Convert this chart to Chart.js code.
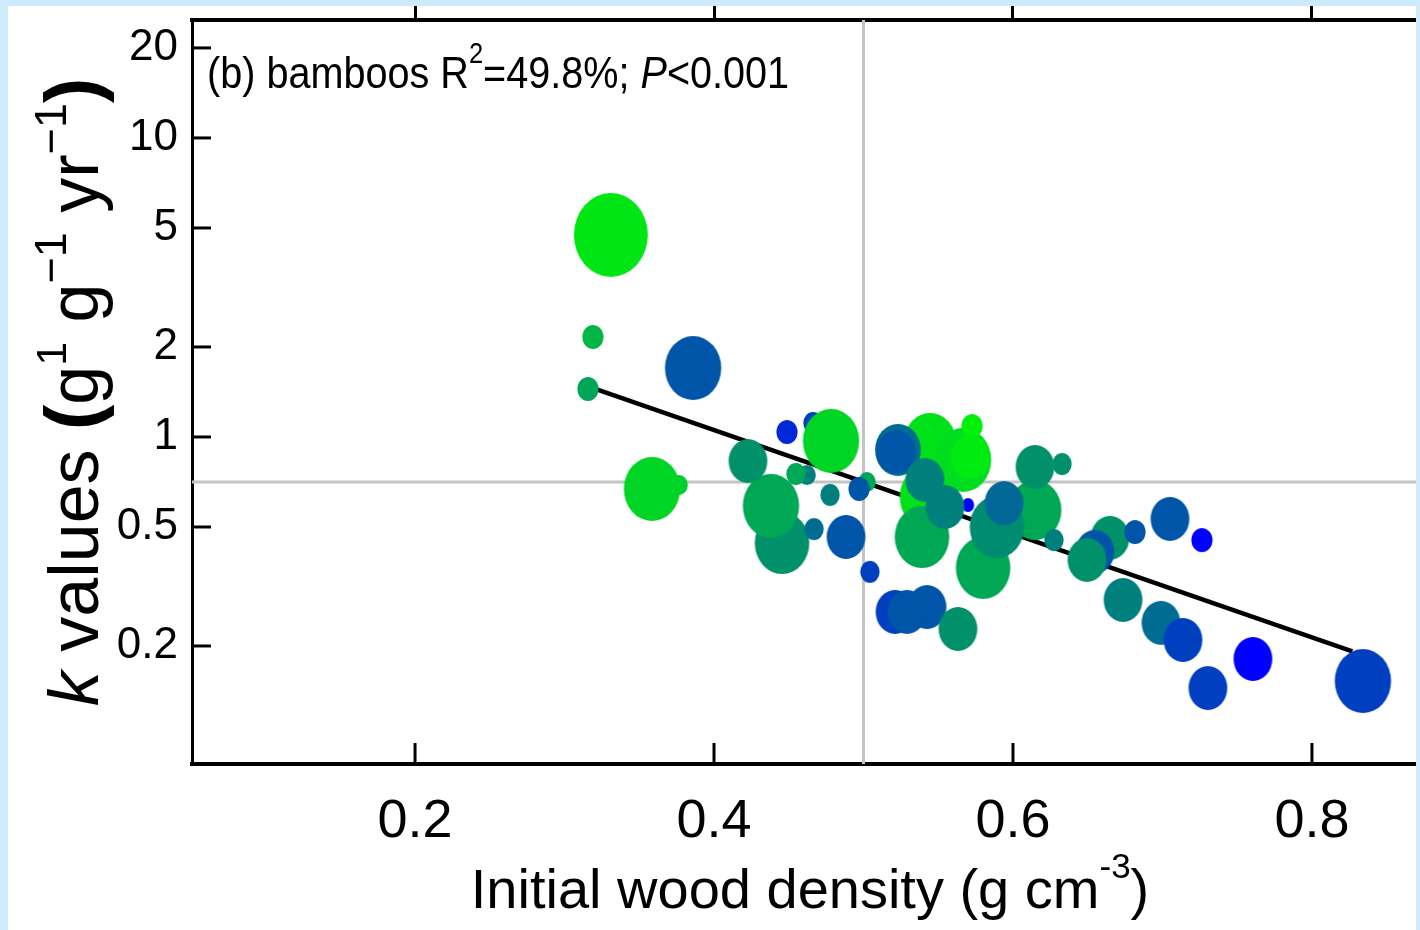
<!DOCTYPE html>
<html>
<head>
<meta charset="utf-8">
<title>Bamboos: k values vs initial wood density</title>
<script src="https://cdn.jsdelivr.net/npm/chart.js@4.4.1/dist/chart.umd.min.js"></script>
<style>
  html, body { margin: 0; padding: 0; background: #cdebfd; }
  #panel { position: absolute; left: 8px; top: 6px; width: 1408px; height: 924px; background: #fff; }
</style>
</head>
<body>
<div id="panel"><canvas id="scatter" width="1408" height="924"></canvas></div>
<script>
// Initial wood density (g cm-3) of each bamboo sample
const density = [
  0.4455, 0.4381, 0.3766, 0.3585, 0.4227, 0.4622, 0.4548, 0.4776, 0.4669, 0.4883,
  0.4488, 0.4662, 0.4783, 0.5023, 0.4970, 0.5043, 0.3310, 0.3190, 0.3860, 0.3157,
  0.5431, 0.5445, 0.5230, 0.5217, 0.5666, 0.5712, 0.5726, 0.5699, 0.5411, 0.5391,
  0.5545, 0.5800, 0.6147, 0.5893, 0.6147, 0.6328, 0.5940, 0.6274, 0.6649, 0.6548,
  0.6495, 0.6816, 0.7050, 0.7264, 0.6736, 0.6990, 0.7137, 0.7304, 0.7605, 0.8341,
  0.5211, 0.5425, 0.5291, 0.5632
];
// decomposition rate k (g g-1 yr-1)
const kValue = [
  0.442, 0.588, 0.691, 0.670, 0.831, 0.746, 0.752, 0.640, 0.492, 0.463,
  1.039, 1.114, 0.970, 0.707, 0.670, 0.354, 4.74, 2.16, 1.70, 1.447,
  0.630, 0.955, 0.905, 0.891, 0.838, 0.857, 1.088, 0.592, 0.718, 0.463,
  0.583, 0.365, 0.570, 0.500, 0.794, 0.812, 0.601, 0.452, 0.460, 0.413,
  0.388, 0.481, 0.532, 0.452, 0.285, 0.239, 0.2095, 0.1447, 0.181, 0.1527,
  0.260, 0.270, 0.260, 0.228
];
// bubble size of each sample
const pointSize = [
  31, 32, 10, 32, 22, 10, 11, 11, 11, 22,
  12, 11, 32, 10, 12, 11, 42, 12, 32, 12,
  32, 30, 26, 22, 32, 22, 12, 7, 22, 31,
  22, 31, 30, 31, 22, 11, 22, 11, 22, 22,
  22, 12, 22, 12, 22, 22, 22, 22, 22, 32,
  22, 22, 22, 22
];
// colour tone, 0 = green ... 1 = blue
const pointTone = [
  0.42, 0.33, 0.18, 0.15, 0.42, 0.49, 0.33, 0.49, 0.57, 0.66,
  0.84, 0.75, 0.15, 0.33, 0.66, 0.75, 0.08, 0.27, 0.66, 0.34,
  0.10, 0.10, 0.57, 0.66, 0.12, 0.06, 0.04, 1.00, 0.49, 0.33,
  0.49, 0.33, 0.33, 0.44, 0.42, 0.42, 0.59, 0.49, 0.42, 0.66,
  0.42, 0.66, 0.66, 1.00, 0.49, 0.57, 0.75, 0.75, 1.00, 0.75,
  0.75, 0.66, 0.66, 0.42
];

// fitted regression line (ends)
const fitX = [0.322, 0.827];
const fitY = [1.44, 0.192];

// reference lines
const refDensity = 0.5;
const meanK = 0.707;

// axes
const xRange = [0.0508, 0.8696];
const yRange = [0.0806, 24.8];
const xTicks = [0.2, 0.4, 0.6, 0.8];
const yTicks = [0.2, 0.5, 1, 2, 5, 10, 20];

const FONT = '"Liberation Sans", Arial, Helvetica, sans-serif';

function toneColor(t) {
  return 'rgb(0,' + Math.round(250 * (1 - t)) + ',' + Math.round(255 * t) + ')';
}

// ellipse sprite for each point (the figure is slightly squeezed sideways)
function makeEllipse(i) {
  const ry = pointSize[i];
  const rx = ry * 0.88;
  const c = document.createElement('canvas');
  c.width = Math.ceil(rx * 2) + 2;
  c.height = Math.ceil(ry * 2) + 2;
  const g = c.getContext('2d');
  g.fillStyle = toneColor(pointTone[i]);
  g.beginPath();
  g.ellipse(c.width / 2, c.height / 2, rx, ry, 0, 0, Math.PI * 2);
  g.fill();
  return c;
}
const sprites = density.map((d, i) => makeEllipse(i));

// draw a row of text pieces with different fonts / raises
function drawRuns(ctx, runs, x0, base) {
  let x = x0;
  runs.forEach(r => {
    ctx.font = r.font;
    ctx.fillText(r.text, x, base + (r.dy || 0));
    x += ctx.measureText(r.text).width;
  });
}
function runsWidth(ctx, runs) {
  let w = 0;
  runs.forEach(r => { ctx.font = r.font; w += ctx.measureText(r.text).width; });
  return w;
}

// no extra label padding around the plot, the frame runs to the edges
function noPad(s) {
  s.paddingLeft = 0;
  s.paddingRight = 0;
  s.paddingTop = 0;
  s.paddingBottom = 0;
}

const decorPlugin = {
  id: 'decor',
  afterDraw(chart) {
    const ctx = chart.ctx;
    const xs = chart.scales.x;
    const ys = chart.scales.y;
    const area = chart.chartArea;

    // ticks pointing into the plot
    ctx.save();
    ctx.strokeStyle = '#000';
    ctx.lineWidth = 3;
    xs.ticks.forEach((t, i) => {
      const px = xs.getPixelForTick(i);
      ctx.beginPath();
      ctx.moveTo(px, area.bottom);
      ctx.lineTo(px, area.bottom - 21);
      ctx.stroke();
    });
    ys.ticks.forEach((t, i) => {
      const py = ys.getPixelForTick(i);
      ctx.beginPath();
      ctx.moveTo(area.left, py);
      ctx.lineTo(area.left + 19, py);
      ctx.stroke();
    });
    ctx.restore();

    ctx.save();
    ctx.fillStyle = '#000';
    ctx.textBaseline = 'alphabetic';
    ctx.textAlign = 'left';

    // panel label
    ctx.save();
    ctx.translate(area.left + 15, area.top + 68);
    ctx.scale(0.88, 1);
    drawRuns(ctx, [
      { text: '(b) bamboos R', font: '45px ' + FONT },
      { text: '2', font: '29px ' + FONT, dy: -25 },
      { text: '=49.8%; ', font: '45px ' + FONT },
      { text: 'P', font: 'italic 45px ' + FONT },
      { text: '<0.001', font: '45px ' + FONT }
    ], 0, 0);
    ctx.restore();

    // x title
    const xRuns = [
      { text: 'Initial wood density (g cm', font: '56px ' + FONT },
      { text: '-3', font: '35px ' + FONT, dy: -30 },
      { text: ')', font: '56px ' + FONT }
    ];
    const xw = runsWidth(ctx, xRuns);
    drawRuns(ctx, xRuns, 802 - xw / 2, 902);

    // y title
    const yRuns = [
      { text: 'k', font: 'italic 70px ' + FONT },
      { text: ' values ', font: '70px ' + FONT },
      { text: '(', font: 'bold 76px ' + FONT },
      { text: 'g', font: '70px ' + FONT },
      { text: '1', font: '43px ' + FONT, dy: -32 },
      { text: ' g', font: '70px ' + FONT },
      { text: '\u22121', font: '45px ' + FONT, dy: -32 },
      { text: ' yr', font: '70px ' + FONT },
      { text: '\u22121', font: '45px ' + FONT, dy: -32 },
      { text: ')', font: 'bold 76px ' + FONT }
    ];
    const yw = runsWidth(ctx, yRuns);
    ctx.translate(90, 386);
    ctx.rotate(-Math.PI / 2);
    drawRuns(ctx, yRuns, -yw / 2, 0);
    ctx.restore();
  }
};

const points = density.map((d, i) => ({ x: d, y: kValue[i] }));

new Chart(document.getElementById('scatter'), {
  type: 'scatter',
  data: {
    datasets: [
      {
        label: 'samples',
        data: points,
        order: 1,
        pointStyle: c => (c.dataIndex === undefined ? 'circle' : sprites[c.dataIndex]),
        pointRadius: c => (c.dataIndex === undefined ? 5 : pointSize[c.dataIndex]),
        pointBackgroundColor: c => (c.dataIndex === undefined ? '#000' : toneColor(pointTone[c.dataIndex])),
        pointBorderWidth: 0
      },
      {
        type: 'line',
        label: 'fit',
        data: fitX.map((x, i) => ({ x: x, y: fitY[i] })),
        order: 2,
        borderColor: '#000',
        borderWidth: 4.5,
        pointRadius: 0,
        fill: false
      },
      {
        type: 'line',
        label: 'mean k',
        data: [{ x: xRange[0], y: meanK }, { x: xRange[1], y: meanK }],
        order: 3,
        borderColor: '#c4c4c4',
        borderWidth: 3,
        pointRadius: 0,
        fill: false
      },
      {
        type: 'line',
        label: 'density 0.5',
        data: [{ x: refDensity, y: yRange[0] }, { x: refDensity, y: yRange[1] }],
        order: 3,
        borderColor: '#c4c4c4',
        borderWidth: 3,
        pointRadius: 0,
        fill: false
      }
    ]
  },
  options: {
    responsive: false,
    animation: false,
    events: [],
    layout: { padding: 0, autoPadding: false },
    plugins: {
      legend: { display: false },
      tooltip: { enabled: false }
    },
    scales: {
      x: {
        type: 'linear',
        position: 'bottom',
        min: xRange[0],
        max: xRange[1],
        afterBuildTicks: s => { s.ticks = xTicks.map(v => ({ value: v })); },
        afterFit: s => { s.height = 166; noPad(s); },
        grid: { display: false, drawTicks: false },
        border: { display: true, color: '#000', width: 4 },
        ticks: {
          color: '#000',
          padding: 26,
          maxRotation: 0,
          font: { family: FONT, size: 54 },
          callback: v => v.toFixed(1)
        }
      },
      xTop: {
        type: 'linear',
        position: 'top',
        min: xRange[0],
        max: xRange[1],
        afterBuildTicks: s => { s.ticks = xTicks.map(v => ({ value: v })); },
        afterFit: s => { s.height = 14; noPad(s); },
        grid: {
          display: true,
          drawOnChartArea: false,
          drawTicks: true,
          tickLength: 14,
          tickWidth: 3,
          tickColor: '#000'
        },
        border: { display: true, color: '#000', width: 4 },
        ticks: { display: false }
      },
      y: {
        type: 'logarithmic',
        position: 'left',
        min: yRange[0],
        max: yRange[1],
        afterBuildTicks: s => { s.ticks = yTicks.map(v => ({ value: v })); },
        afterFit: s => { s.width = 184; noPad(s); },
        grid: { display: false, drawTicks: false },
        border: { display: true, color: '#000', width: 3 },
        ticks: {
          color: '#000',
          padding: 14,
          font: { family: FONT, size: 44 },
          callback: v => String(v)
        }
      }
    }
  },
  plugins: [decorPlugin]
});
</script>
</body>
</html>
